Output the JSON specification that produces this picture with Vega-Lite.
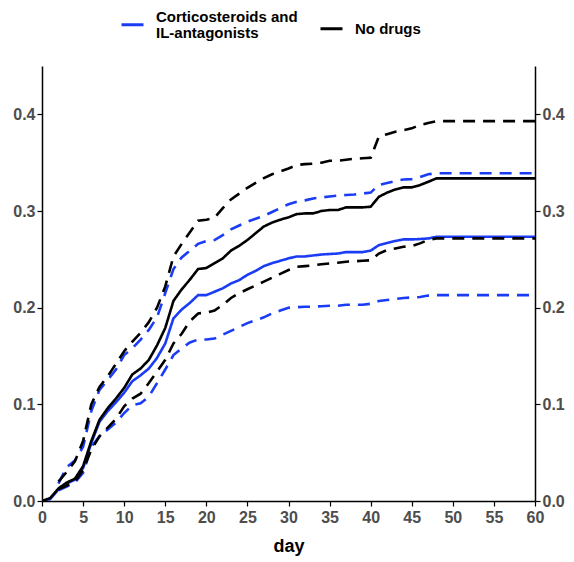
{
  "$schema": "https://vega.github.io/schema/vega-lite/v6.json",
  "width": 493,
  "height": 435,
  "autosize": {"type": "none"},
  "padding": {"left": 42, "top": 66, "right": 39, "bottom": 61},
  "background": "white",
  "data": {"values": [
    {"g": "Corticosteroids and IL-antagonists", "day": 0, "est": 0, "lo": null, "hi": null},
    {"g": "Corticosteroids and IL-antagonists", "day": 1, "est": 0.002, "lo": null, "hi": null},
    {"g": "Corticosteroids and IL-antagonists", "day": 2, "est": 0.012, "lo": 0.011, "hi": 0.018},
    {"g": "Corticosteroids and IL-antagonists", "day": 3, "est": 0.018, "lo": 0.015, "hi": 0.035},
    {"g": "Corticosteroids and IL-antagonists", "day": 4, "est": 0.022, "lo": 0.019, "hi": 0.042},
    {"g": "Corticosteroids and IL-antagonists", "day": 5, "est": 0.034, "lo": 0.029, "hi": 0.056},
    {"g": "Corticosteroids and IL-antagonists", "day": 6, "est": 0.06, "lo": 0.056, "hi": 0.093},
    {"g": "Corticosteroids and IL-antagonists", "day": 7, "est": 0.082, "lo": 0.067, "hi": 0.115},
    {"g": "Corticosteroids and IL-antagonists", "day": 8, "est": 0.093, "lo": 0.074, "hi": 0.125},
    {"g": "Corticosteroids and IL-antagonists", "day": 9, "est": 0.102, "lo": 0.081, "hi": 0.136},
    {"g": "Corticosteroids and IL-antagonists", "day": 10, "est": 0.112, "lo": 0.091, "hi": 0.151},
    {"g": "Corticosteroids and IL-antagonists", "day": 11, "est": 0.124, "lo": 0.099, "hi": 0.158},
    {"g": "Corticosteroids and IL-antagonists", "day": 12, "est": 0.13, "lo": 0.101, "hi": 0.167},
    {"g": "Corticosteroids and IL-antagonists", "day": 13, "est": 0.137, "lo": 0.108, "hi": 0.177},
    {"g": "Corticosteroids and IL-antagonists", "day": 14, "est": 0.148, "lo": 0.122, "hi": 0.19},
    {"g": "Corticosteroids and IL-antagonists", "day": 15, "est": 0.163, "lo": 0.136, "hi": 0.215},
    {"g": "Corticosteroids and IL-antagonists", "day": 16, "est": 0.189, "lo": 0.151, "hi": 0.24},
    {"g": "Corticosteroids and IL-antagonists", "day": 17, "est": 0.198, "lo": 0.158, "hi": 0.252},
    {"g": "Corticosteroids and IL-antagonists", "day": 18, "est": 0.205, "lo": 0.164, "hi": 0.259},
    {"g": "Corticosteroids and IL-antagonists", "day": 19, "est": 0.213, "lo": 0.167, "hi": 0.266},
    {"g": "Corticosteroids and IL-antagonists", "day": 20, "est": 0.213, "lo": 0.167, "hi": 0.269},
    {"g": "Corticosteroids and IL-antagonists", "day": 21, "est": 0.2165, "lo": 0.168, "hi": 0.27},
    {"g": "Corticosteroids and IL-antagonists", "day": 22, "est": 0.22, "lo": 0.172, "hi": 0.275},
    {"g": "Corticosteroids and IL-antagonists", "day": 23, "est": 0.225, "lo": 0.176, "hi": 0.281},
    {"g": "Corticosteroids and IL-antagonists", "day": 24, "est": 0.2285, "lo": 0.18, "hi": 0.285},
    {"g": "Corticosteroids and IL-antagonists", "day": 25, "est": 0.234, "lo": 0.184, "hi": 0.289},
    {"g": "Corticosteroids and IL-antagonists", "day": 26, "est": 0.238, "lo": 0.187, "hi": 0.292},
    {"g": "Corticosteroids and IL-antagonists", "day": 27, "est": 0.243, "lo": 0.19, "hi": 0.295},
    {"g": "Corticosteroids and IL-antagonists", "day": 28, "est": 0.246, "lo": 0.194, "hi": 0.299},
    {"g": "Corticosteroids and IL-antagonists", "day": 29, "est": 0.2485, "lo": 0.197, "hi": 0.303},
    {"g": "Corticosteroids and IL-antagonists", "day": 30, "est": 0.251, "lo": 0.2, "hi": 0.307},
    {"g": "Corticosteroids and IL-antagonists", "day": 31, "est": 0.253, "lo": 0.2005, "hi": 0.3095},
    {"g": "Corticosteroids and IL-antagonists", "day": 32, "est": 0.253, "lo": 0.201, "hi": 0.311},
    {"g": "Corticosteroids and IL-antagonists", "day": 33, "est": 0.254, "lo": 0.201, "hi": 0.313},
    {"g": "Corticosteroids and IL-antagonists", "day": 34, "est": 0.255, "lo": 0.2015, "hi": 0.314},
    {"g": "Corticosteroids and IL-antagonists", "day": 35, "est": 0.2555, "lo": 0.202, "hi": 0.315},
    {"g": "Corticosteroids and IL-antagonists", "day": 36, "est": 0.256, "lo": 0.202, "hi": 0.316},
    {"g": "Corticosteroids and IL-antagonists", "day": 37, "est": 0.2575, "lo": 0.203, "hi": 0.3165},
    {"g": "Corticosteroids and IL-antagonists", "day": 38, "est": 0.2575, "lo": 0.203, "hi": 0.317},
    {"g": "Corticosteroids and IL-antagonists", "day": 39, "est": 0.2575, "lo": 0.203, "hi": 0.318},
    {"g": "Corticosteroids and IL-antagonists", "day": 40, "est": 0.259, "lo": 0.204, "hi": 0.319},
    {"g": "Corticosteroids and IL-antagonists", "day": 41, "est": 0.2647, "lo": 0.207, "hi": 0.327},
    {"g": "Corticosteroids and IL-antagonists", "day": 42, "est": 0.267, "lo": 0.208, "hi": 0.329},
    {"g": "Corticosteroids and IL-antagonists", "day": 43, "est": 0.269, "lo": 0.209, "hi": 0.331},
    {"g": "Corticosteroids and IL-antagonists", "day": 44, "est": 0.2706, "lo": 0.21, "hi": 0.3326},
    {"g": "Corticosteroids and IL-antagonists", "day": 45, "est": 0.2706, "lo": 0.2105, "hi": 0.333},
    {"g": "Corticosteroids and IL-antagonists", "day": 46, "est": 0.271, "lo": 0.211, "hi": 0.335},
    {"g": "Corticosteroids and IL-antagonists", "day": 47, "est": 0.2716, "lo": 0.2125, "hi": 0.338},
    {"g": "Corticosteroids and IL-antagonists", "day": 48, "est": 0.2733, "lo": 0.213, "hi": 0.339},
    {"g": "Corticosteroids and IL-antagonists", "day": 60, "est": 0.2733, "lo": 0.213, "hi": 0.339},
    {"g": "No drugs", "day": 0, "est": 0, "lo": null, "hi": null},
    {"g": "No drugs", "day": 1, "est": 0.003, "lo": null, "hi": null},
    {"g": "No drugs", "day": 2, "est": 0.013, "lo": 0.012, "hi": 0.02},
    {"g": "No drugs", "day": 3, "est": 0.019, "lo": 0.016, "hi": 0.03},
    {"g": "No drugs", "day": 4, "est": 0.023, "lo": 0.02, "hi": 0.041},
    {"g": "No drugs", "day": 5, "est": 0.036, "lo": 0.032, "hi": 0.062},
    {"g": "No drugs", "day": 6, "est": 0.062, "lo": 0.053, "hi": 0.1},
    {"g": "No drugs", "day": 7, "est": 0.084, "lo": 0.067, "hi": 0.118},
    {"g": "No drugs", "day": 8, "est": 0.096, "lo": 0.076, "hi": 0.129},
    {"g": "No drugs", "day": 9, "est": 0.106, "lo": 0.085, "hi": 0.142},
    {"g": "No drugs", "day": 10, "est": 0.117, "lo": 0.098, "hi": 0.155},
    {"g": "No drugs", "day": 11, "est": 0.131, "lo": 0.106, "hi": 0.165},
    {"g": "No drugs", "day": 12, "est": 0.137, "lo": 0.111, "hi": 0.174},
    {"g": "No drugs", "day": 13, "est": 0.146, "lo": 0.122, "hi": 0.185},
    {"g": "No drugs", "day": 14, "est": 0.161, "lo": 0.134, "hi": 0.2},
    {"g": "No drugs", "day": 15, "est": 0.179, "lo": 0.146, "hi": 0.222},
    {"g": "No drugs", "day": 16, "est": 0.207, "lo": 0.163, "hi": 0.253},
    {"g": "No drugs", "day": 17, "est": 0.219, "lo": 0.173, "hi": 0.266},
    {"g": "No drugs", "day": 18, "est": 0.229, "lo": 0.186, "hi": 0.278},
    {"g": "No drugs", "day": 19, "est": 0.24, "lo": 0.194, "hi": 0.29},
    {"g": "No drugs", "day": 20, "est": 0.241, "lo": 0.195, "hi": 0.291},
    {"g": "No drugs", "day": 21, "est": 0.246, "lo": 0.197, "hi": 0.293},
    {"g": "No drugs", "day": 22, "est": 0.251, "lo": 0.203, "hi": 0.303},
    {"g": "No drugs", "day": 23, "est": 0.259, "lo": 0.21, "hi": 0.312},
    {"g": "No drugs", "day": 24, "est": 0.264, "lo": 0.215, "hi": 0.318},
    {"g": "No drugs", "day": 25, "est": 0.27, "lo": 0.219, "hi": 0.324},
    {"g": "No drugs", "day": 26, "est": 0.277, "lo": 0.223, "hi": 0.329},
    {"g": "No drugs", "day": 27, "est": 0.284, "lo": 0.227, "hi": 0.334},
    {"g": "No drugs", "day": 28, "est": 0.288, "lo": 0.231, "hi": 0.338},
    {"g": "No drugs", "day": 29, "est": 0.291, "lo": 0.235, "hi": 0.341},
    {"g": "No drugs", "day": 30, "est": 0.2934, "lo": 0.239, "hi": 0.344},
    {"g": "No drugs", "day": 31, "est": 0.2968, "lo": 0.2423, "hi": 0.3475},
    {"g": "No drugs", "day": 32, "est": 0.2975, "lo": 0.243, "hi": 0.3485},
    {"g": "No drugs", "day": 33, "est": 0.2975, "lo": 0.2437, "hi": 0.349},
    {"g": "No drugs", "day": 34, "est": 0.3, "lo": 0.245, "hi": 0.35},
    {"g": "No drugs", "day": 35, "est": 0.301, "lo": 0.2458, "hi": 0.352},
    {"g": "No drugs", "day": 36, "est": 0.301, "lo": 0.2465, "hi": 0.352},
    {"g": "No drugs", "day": 37, "est": 0.3037, "lo": 0.2475, "hi": 0.353},
    {"g": "No drugs", "day": 38, "est": 0.3037, "lo": 0.248, "hi": 0.354},
    {"g": "No drugs", "day": 39, "est": 0.3037, "lo": 0.2485, "hi": 0.3545},
    {"g": "No drugs", "day": 40, "est": 0.3044, "lo": 0.249, "hi": 0.355},
    {"g": "No drugs", "day": 41, "est": 0.3147, "lo": 0.256, "hi": 0.377},
    {"g": "No drugs", "day": 42, "est": 0.319, "lo": 0.2596, "hi": 0.3795},
    {"g": "No drugs", "day": 43, "est": 0.3223, "lo": 0.2613, "hi": 0.382},
    {"g": "No drugs", "day": 44, "est": 0.3244, "lo": 0.263, "hi": 0.3835},
    {"g": "No drugs", "day": 45, "est": 0.3244, "lo": 0.2637, "hi": 0.3855},
    {"g": "No drugs", "day": 46, "est": 0.3268, "lo": 0.2665, "hi": 0.389},
    {"g": "No drugs", "day": 47, "est": 0.3302, "lo": 0.27, "hi": 0.391},
    {"g": "No drugs", "day": 48, "est": 0.3337, "lo": 0.2717, "hi": 0.393},
    {"g": "No drugs", "day": 60, "est": 0.3337, "lo": 0.2717, "hi": 0.393}
  ]},
  "transform": [{"fold": ["est", "lo", "hi"], "as": ["band", "value"]}],
  "layer": [
    {
      "mark": {"type": "line", "strokeWidth": 2.6, "clip": true},
      "encoding": {
        "x": {
          "field": "day", "type": "quantitative",
          "scale": {"domain": [0, 60], "nice": false, "zero": false},
          "axis": {"values": [0, 5, 10, 15, 20, 25, 30, 35, 40, 45, 50, 55, 60], "title": "day", "grid": false, "titlePadding": 12}
        },
        "y": {
          "field": "value", "type": "quantitative",
          "scale": {"domain": [0, 0.45], "nice": false},
          "axis": {"values": [0, 0.1, 0.2, 0.3, 0.4], "format": ".1f", "title": null, "grid": false, "orient": "left", "labelPadding": 2}
        },
        "color": {
          "field": "g", "type": "nominal",
          "scale": {"domain": ["Corticosteroids and IL-antagonists", "No drugs"], "range": ["#1b3cf5", "#000000"]},
          "legend": {
            "title": null,
            "orient": "none",
            "direction": "horizontal",
            "legendX": 78,
            "legendY": -54,
            "symbolType": "stroke",
            "symbolSize": 484,
            "symbolStrokeWidth": 3,
            "labelOffset": 11,
            "columnPadding": 16,
            "labelFontSize": 15,
            "labelFont": "Liberation Sans",
            "labelFontWeight": "bold",
            "labelColor": "#000000",
            "labelLimit": 400,
            "labelExpr": "datum.label == 'Corticosteroids and IL-antagonists' ? ['Corticosteroids and', '\u00a0IL-antagonists'] : datum.label",
            "encode": {
              "labels": {
                "update": {
                  "lineHeight": {"value": 16},
                  "dy": {"signal": "datum.label == 'Corticosteroids and IL-antagonists' ? -8 : 0"}
                }
              }
            }
          }
        },
        "strokeDash": {
          "field": "band", "type": "nominal",
          "scale": {"domain": ["est", "lo", "hi"], "range": [[1, 0], [12, 8], [12, 8]]},
          "legend": null
        }
      }
    },
    {
      "mark": {"type": "line", "opacity": 0},
      "encoding": {
        "x": {"field": "day", "type": "quantitative"},
        "y": {
          "field": "value", "type": "quantitative",
          "axis": {"values": [0, 0.1, 0.2, 0.3, 0.4], "format": ".1f", "title": null, "grid": false, "orient": "right", "labelPadding": 2}
        },
        "detail": {"field": "g"}
      }
    }
  ],
  "resolve": {"axis": {"y": "independent"}},
  "config": {
    "view": {"stroke": null},
    "axis": {
      "domainColor": "#000000",
      "domainWidth": 1.5,
      "tickColor": "#000000",
      "tickWidth": 1.2,
      "tickSize": 5,
      "labelFlush": false,
      "labelOverlap": false,
      "labelFont": "Liberation Sans",
      "labelFontSize": 16,
      "labelFontWeight": "bold",
      "labelColor": "#4d4d4d",
      "labelPadding": 3,
      "titleFont": "Liberation Sans",
      "titleFontSize": 18,
      "titleFontWeight": "bold",
      "titleColor": "#000000"
    }
  }
}
